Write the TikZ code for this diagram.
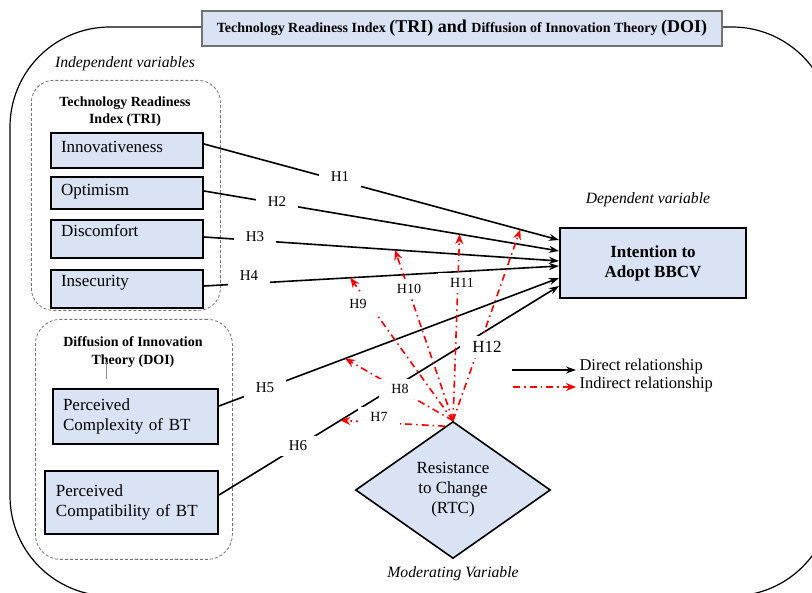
\documentclass[tikz,border=0pt]{standalone}
\usepackage{fontspec}
\setmainfont{Liberation Serif}
\usetikzlibrary{arrows.meta,shapes.geometric,positioning}

\definecolor{boxblue}{HTML}{DAE3F3}

\begin{document}
\begin{tikzpicture}[x=1pt,y=-1pt]
\begin{scope}

\tikzstyle{varnode} = [draw,line width=2pt,fill=boxblue,text width=132pt,align=left,inner xsep=10pt,text height=12pt,text depth=7pt,font=\fontsize{17}{21}\selectfont];
\tikzstyle{doinode} = [draw,line width=2pt,fill=boxblue,align=left,inner xsep=10pt,font=\fontsize{17}{20.5}\selectfont];
\tikzstyle{depnode} = [draw,line width=2pt,fill=boxblue,align=center,minimum width=186pt,minimum height=70pt,font=\bfseries\fontsize{17}{20}\selectfont];
\tikzstyle{rtcnode} = [diamond,draw,line width=1.6pt,fill=boxblue,align=center,inner sep=0pt,minimum width=195pt,minimum height=137pt,font=\fontsize{17}{20}\selectfont];
\tikzstyle{titlenode} = [draw=black!55,line width=1.2pt,fill=boxblue,minimum width=520pt,minimum height=35pt,font=\bfseries];
\tikzstyle{groupnode} = [draw=black!55,dash pattern=on 3pt off 2pt,line width=0.8pt,rounded corners=22pt];
\tikzstyle{grouptitle} = [align=center,font=\bfseries\fontsize{14}{17.5}\selectfont];
\tikzstyle{capnode} = [font=\itshape\fontsize{15.7}{18}\selectfont];
\tikzstyle{hypnode} = [fill=white,inner xsep=12pt,inner ysep=5pt,font=\fontsize{15}{17}\selectfont];
\tikzstyle{legnode} = [anchor=west,font=\fontsize{16.5}{19}\selectfont];
\tikzstyle{direct} = [-{Stealth[length=10pt,width=7pt]},line width=1.6pt];
\tikzstyle{indirect} = [-{Stealth[length=10pt,width=8pt]},line width=1.6pt,red,dash pattern=on 7pt off 4pt on 1.5pt off 4pt];

\useasboundingbox (0,0) rectangle (812,593);
\draw [line width=1.2pt,rounded corners=100pt] (10,27) rectangle (832,596);

\node [titlenode] (title) at (462,28.5) {{\fontsize{14}{16}\selectfont Technology Readiness Index }{\fontsize{18}{20}\selectfont (TRI) and }{\fontsize{14}{16}\selectfont Diffusion of Innovation Theory }{\fontsize{18}{20}\selectfont (DOI)}};

\node [capnode] (indepcap) at (125,64) {Independent variables};
\node [groupnode,anchor=north west,minimum width=189pt,minimum height=230pt] (trigroup) at (31,80) {};
\node [groupnode,anchor=north west,minimum width=197pt,minimum height=240pt,rounded corners=25pt] (doigroup) at (35,319) {};
\node [grouptitle] (trititle) at (125,111.5) {Technology Readiness\\Index (TRI)};
\node [grouptitle] (doititle) at (133,352) {Diffusion of Innovation\\Theory (DOI)};
\draw [black!45,line width=0.8pt] (106,362) -- (106,379);

\node [varnode,anchor=north west,minimum height=35pt] (i1) at (50,132) {Innovativeness};
\node [varnode,anchor=north west,minimum height=32pt] (i2) at ([yshift=-7pt]i1.south west) {Optimism};
\node [varnode,anchor=north west,minimum height=38pt,text depth=16pt] (i3) at ([yshift=-9pt]i2.south west) {Discomfort};
\node [varnode,anchor=north west,minimum height=38pt,text depth=16pt] (i4) at ([yshift=-10pt]i3.south west) {Insecurity};

\node [doinode,anchor=north west,text width=145pt,minimum height=55pt] (d1) at (52,388) {Perceived\\Complexity of BT};
\node [doinode,anchor=north east,text width=151pt,inner xsep=11pt,minimum height=63pt] (d2) at ([yshift=-25pt]d1.south east) {Perceived\\Compatibility of BT};

\node [capnode] (depcap) at (648,200) {Dependent variable};
\node [depnode] (dep) at (653,263) {Intention to\\Adopt BBCV};

\node [rtcnode] (rtc) at (453,490) {Resistance\\to Change\\(RTC)};
\node [capnode] (modcap) at (453,574) {Moderating Variable};

\draw [direct] ([yshift=6.5pt]i1.east) -- coordinate[pos=0.891] (m1) ([yshift=23pt]dep.west);
\draw [direct] ([yshift=2pt]i2.east) -- coordinate[pos=0.72] (m2) ([yshift=12pt]dep.west);
\draw [direct] ([yshift=2pt]i3.east) -- coordinate[pos=0.538] (m3) ([yshift=2pt]dep.west);
\draw [direct] ([yshift=3pt]i4.east) -- coordinate[pos=0.412] (m4) ([yshift=-3pt]dep.west);
\draw [direct] ([yshift=10.5pt]d1.east) -- coordinate[pos=0.371] (m5) ([yshift=-15pt]dep.west);
\draw [direct] ([yshift=7.5pt]d2.east) -- coordinate[pos=0.357] (m6) ([yshift=-23pt]dep.west);

\draw [indirect] (rtc.97) -- (m6);
\draw [indirect] (rtc.north) -- (m5);
\draw [indirect] (rtc.north) -- (m4);
\draw [indirect] (rtc.north) -- (m3);
\draw [indirect] (rtc.north) -- (m2);
\draw [indirect] (rtc.north) -- (m1);

\node [hypnode] (h1) at (340,177) {H1};
\node [hypnode] (h2) at (277,202) {H2};
\node [hypnode] (h3) at (255,237) {H3};
\node [hypnode] (h4) at (249,276) {H4};
\node [hypnode] (h5) at (265,388) {H5};
\node [hypnode] (h6) at (298,446) {H6};
\node [hypnode,font=\fontsize{14}{16}\selectfont] (h7) at (379,417) {H7};
\node [hypnode,font=\fontsize{14}{16}\selectfont] (h8) at (400,389) {H8};
\node [hypnode,font=\fontsize{14}{16}\selectfont] (h9) at (358,304) {H9};
\node [hypnode,font=\fontsize{14}{16}\selectfont] (h10) at (409,289) {H10};
\node [hypnode,font=\fontsize{14}{16}\selectfont] (h11) at (462,283) {H11};
\node [hypnode,font=\fontsize{17}{19}\selectfont] (h12) at (487,347) {H12};

\node [legnode] (legd) at (576,367) {Direct relationship};
\node [legnode] (legi) at (576,385) {Indirect relationship};
\coordinate (l1) at (512,370);
\coordinate (l2) at (513,387);
\draw [direct] (l1) -- (l1 -| legd.west);
\draw [indirect] (l2) -- (l2 -| legi.west);

\end{scope}
\end{tikzpicture}
\end{document}
